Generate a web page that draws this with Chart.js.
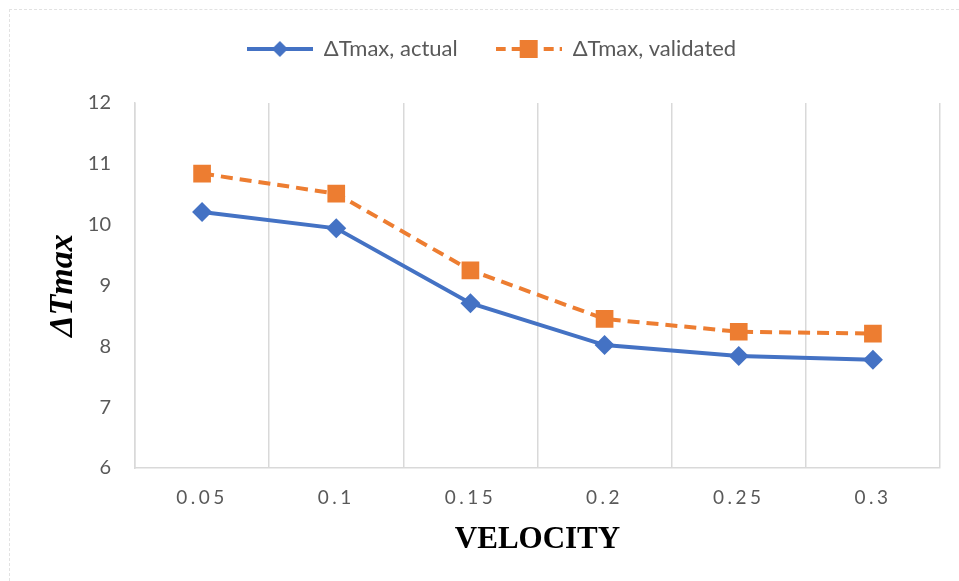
<!DOCTYPE html>
<html>
<head>
<meta charset="utf-8">
<script src="https://cdn.jsdelivr.net/npm/chart.js@4.4.1/dist/chart.umd.min.js"></script>
<style>
  html, body { margin: 0; padding: 0; background: #fff; }
  #wrap { position: relative; width: 959px; height: 581px; }
  #frame { position: absolute; left: 9px; top: 9px; right: -5px; bottom: -5px;
           border-top: 1px dashed #e2e2e2; border-left: 1px dashed #e2e2e2; pointer-events: none; }
</style>
</head>
<body>
<div id="wrap">
  <canvas id="chart" width="959" height="581"></canvas>
  <div id="frame"></div>
</div>
<script>
const velocities = ['0.05', '0.1', '0.15', '0.2', '0.25', '0.3'];
const actualValues = [10.21, 9.94, 8.71, 8.02, 7.84, 7.78];
const validatedValues = [10.84, 10.51, 9.25, 8.45, 8.24, 8.21];
const seriesNames = ['\u0394Tmax, actual', '\u0394Tmax, validated'];

const blue = '#4472C4';
const orange = '#ED7D31';
const tickGray = '#595959';

// small legend icons: line + marker, like Excel
function legendIcon(color, dashed, marker) {
    const c = document.createElement('canvas');
    c.width = 66; c.height = 20;
    const g = c.getContext('2d');
    g.strokeStyle = color;
    g.fillStyle = color;
    g.lineWidth = 4;
    if (dashed) g.setLineDash([10, 6]);
    g.beginPath();
    g.moveTo(0, 10);
    g.lineTo(66, 10);
    g.stroke();
    g.setLineDash([]);
    if (marker === 'diamond') {
        g.beginPath();
        g.moveTo(33, 2); g.lineTo(41, 10); g.lineTo(33, 18); g.lineTo(25, 10);
        g.closePath();
        g.fill();
    } else {
        g.fillRect(24, 1, 18, 18);
    }
    return c;
}

const icons = [legendIcon(blue, false, 'diamond'), legendIcon(orange, true, 'square')];

// extra room under the legend, like the Excel plot area
const legendGap = {
    id: 'legendGap',
    afterInit(chart) {
        const fit = chart.legend.fit;
        chart.legend.fit = function () {
            fit.call(this);
            this.height += 33;
        };
    }
};

function spacedLabels(scale) {
    if (scale._spaced) return;
    const draw = scale.drawLabels;
    scale.drawLabels = function (area) {
        const c = this.ctx;
        c.save();
        c.letterSpacing = '3.5px';
        draw.call(this, area);
        c.restore();
    };
    scale._spaced = true;
}

const ctx = document.getElementById('chart');

new Chart(ctx, {
    type: 'line',
    data: {
        labels: velocities,
        datasets: [{
            label: seriesNames[0],
            data: actualValues,
            borderColor: blue,
            backgroundColor: blue,
            borderWidth: 4,
            pointStyle: 'rectRot',
            pointRadius: 10,
            pointBorderWidth: 0,
            tension: 0
        }, {
            label: seriesNames[1],
            data: validatedValues,
            borderColor: orange,
            backgroundColor: orange,
            borderWidth: 4,
            borderDash: [12, 7],
            pointStyle: 'rect',
            pointRadius: 12.5,
            pointBorderWidth: 0,
            tension: 0
        }]
    },
    options: {
        responsive: false,
        animation: false,
        layout: { padding: { left: 43, right: 19, top: 0, bottom: 22 } },
        plugins: {
            tooltip: { enabled: false },
            legend: {
                position: 'top',
                labels: {
                    color: tickGray,
                    font: { family: 'Lato', size: 22 },
                    usePointStyle: true,
                    pointStyleWidth: 66,
                    boxHeight: 20,
                    padding: 38,
                    generateLabels: (chart) => chart.data.datasets.map((ds, i) => ({
                        text: ds.label,
                        pointStyle: icons[i],
                        fillStyle: ds.borderColor,
                        strokeStyle: ds.borderColor,
                        lineWidth: 0,
                        hidden: false,
                        datasetIndex: i,
                        fontColor: tickGray
                    }))
                }
            }
        },
        scales: {
            x: {
                offset: true,
                grid: { offset: true, color: '#d9d9d9', lineWidth: 1.5, drawTicks: false },
                border: { color: '#d9d9d9', width: 1.5 },
                ticks: { color: tickGray, font: { family: 'Lato', size: 19 }, padding: 18 },
                title: {
                    display: true,
                    text: 'VELOCITY',
                    color: '#000',
                    font: { family: 'Liberation Serif', size: 31, weight: 'bold' },
                    padding: { top: -5, bottom: 0 }
                },
                afterFit: spacedLabels
            },
            y: {
                min: 6,
                max: 12,
                ticks: { stepSize: 1, color: tickGray, font: { family: 'Lato', size: 20 }, padding: 16 },
                grid: { display: false },
                border: { color: '#d9d9d9', width: 1.5 },
                title: {
                    display: true,
                    text: '\u0394Tmax',
                    color: '#000',
                    font: { family: 'Liberation Serif', size: 34, style: 'italic', weight: 'bold' },
                    padding: { top: 0, bottom: 2 }
                },
                afterFit: (scale) => { scale.width = 92; }
            }
        }
    },
    plugins: [legendGap]
});
</script>
</body>
</html>
